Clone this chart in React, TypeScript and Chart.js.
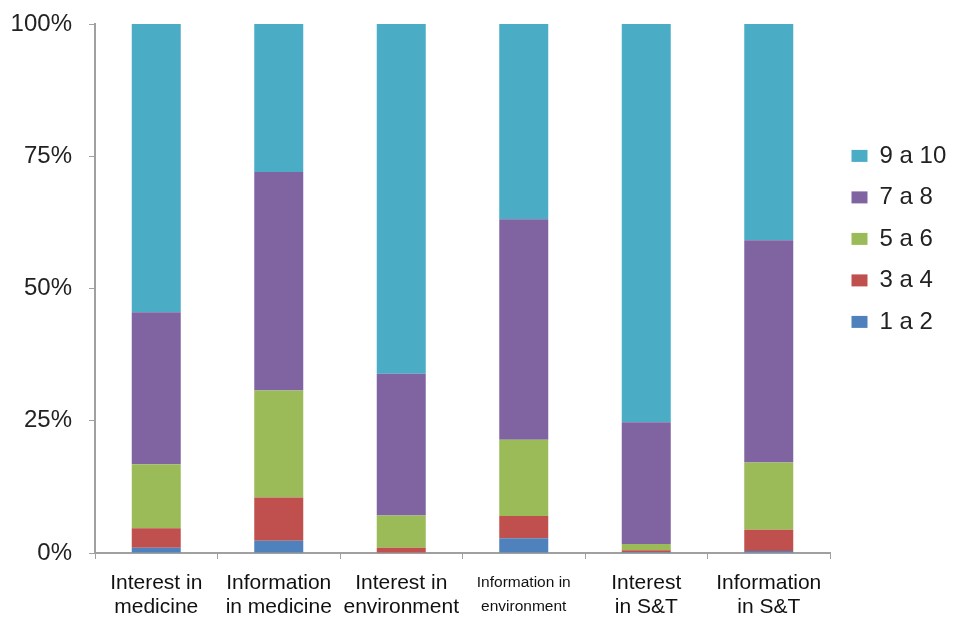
import React, { useEffect, useRef } from "react";
import { Chart, registerables } from "chart.js";

Chart.register(...registerables);

const categories: string[][] = [
  ["Interest in", "medicine"],
  ["Information", "in medicine"],
  ["Interest in", "environment"],
  ["Information in", "environment"],
  ["Interest", "in S&T"],
  ["Information", "in S&T"],
];

const s1a2 = [1.0, 2.3, 0.0, 2.8, 0.2, 0.4];
const s3a4 = [3.7, 8.2, 1.0, 4.2, 0.3, 4.0];
const s5a6 = [12.1, 20.2, 6.1, 14.4, 1.2, 12.7];
const s7a8 = [28.7, 41.3, 26.8, 41.7, 23.0, 42.0];
const s9a10 = [54.5, 28.0, 66.1, 36.9, 75.3, 40.9];

const yTicks = [0, 25, 50, 75, 100];

export default function App() {
  const ref = useRef<HTMLCanvasElement | null>(null);
  useEffect(() => {
    if (!ref.current) return;
    const font = "'Liberation Sans', Arial, sans-serif";
    const axisColor = "#a0a0a0";
    const chart = new Chart(ref.current, {
      type: "bar",
      data: {
        labels: categories,
        datasets: [
          { label: "1 a 2", data: s1a2, backgroundColor: "#4F81BD" },
          { label: "3 a 4", data: s3a4, backgroundColor: "#C0504D" },
          { label: "5 a 6", data: s5a6, backgroundColor: "#9BBB59" },
          { label: "7 a 8", data: s7a8, backgroundColor: "#8064A2" },
          { label: "9 a 10", data: s9a10, backgroundColor: "#4BACC6" },
        ],
      },
      options: {
        animation: false,
        responsive: false,
        maintainAspectRatio: false,
        layout: { padding: { top: 2, right: 0, left: 0, bottom: 0 } },
        datasets: { bar: { barPercentage: 0.4, categoryPercentage: 1 } },
        scales: {
          x: {
            stacked: true,
            border: { color: axisColor, width: 2 },
            grid: {
              display: true,
              drawOnChartArea: false,
              drawTicks: true,
              tickLength: 6,
              color: axisColor,
              offset: true,
            },
            ticks: {
              color: "#111",
              padding: 12,
              maxRotation: 0,
              autoSkip: false,
              font: (ctx: any) =>
                ctx.index === 3
                  ? { family: font, size: 15.5, lineHeight: "24px" }
                  : { family: font, size: 21, lineHeight: "24px" },
            },
            afterFit: (s: any) => {
              s.height = 62;
              s.paddingLeft = 0;
              s.paddingRight = 0;
            },
          },
          y: {
            stacked: true,
            min: 0,
            max: 100,
            border: { color: axisColor, width: 2 },
            grid: {
              display: true,
              drawOnChartArea: false,
              drawTicks: true,
              tickLength: 6,
              color: axisColor,
            },
            afterBuildTicks: (axis: any) => {
              axis.ticks = yTicks.map((v) => ({ value: v }));
            },
            afterFit: (s: any) => {
              s.width = 87;
              s.paddingTop = 16;
              s.paddingBottom = 0;
            },
            ticks: {
              color: "#222",
              padding: 17,
              font: { family: font, size: 24 },
              callback: (v: any) => v + "%",
            },
          },
          spacer: {
            type: "linear",
            position: "right",
            display: true,
            grid: { display: false },
            border: { display: false },
            ticks: { display: false },
            afterFit: (s: any) => {
              s.width = 4;
            },
          },
        },
        plugins: {
          tooltip: { enabled: false },
          legend: {
            position: "right",
            align: "start",
            reverse: true,
            maxWidth: 114,
            title: {
              display: true,
              text: "",
              font: { size: 12, lineHeight: 1.2 },
              padding: { top: 102, bottom: 0 },
            },
            labels: {
              color: "#222",
              boxWidth: 16,
              boxHeight: 12,
              padding: 17.5,
              font: { family: font, size: 24 },
            },
          },
        },
      },
    });
    return () => chart.destroy();
  }, []);
  return (
    <div style={{ width: 940, height: 607, background: "#fff" }}>
      <canvas ref={ref} width={940} height={607} style={{ display: "block" }} />
    </div>
  );
}
